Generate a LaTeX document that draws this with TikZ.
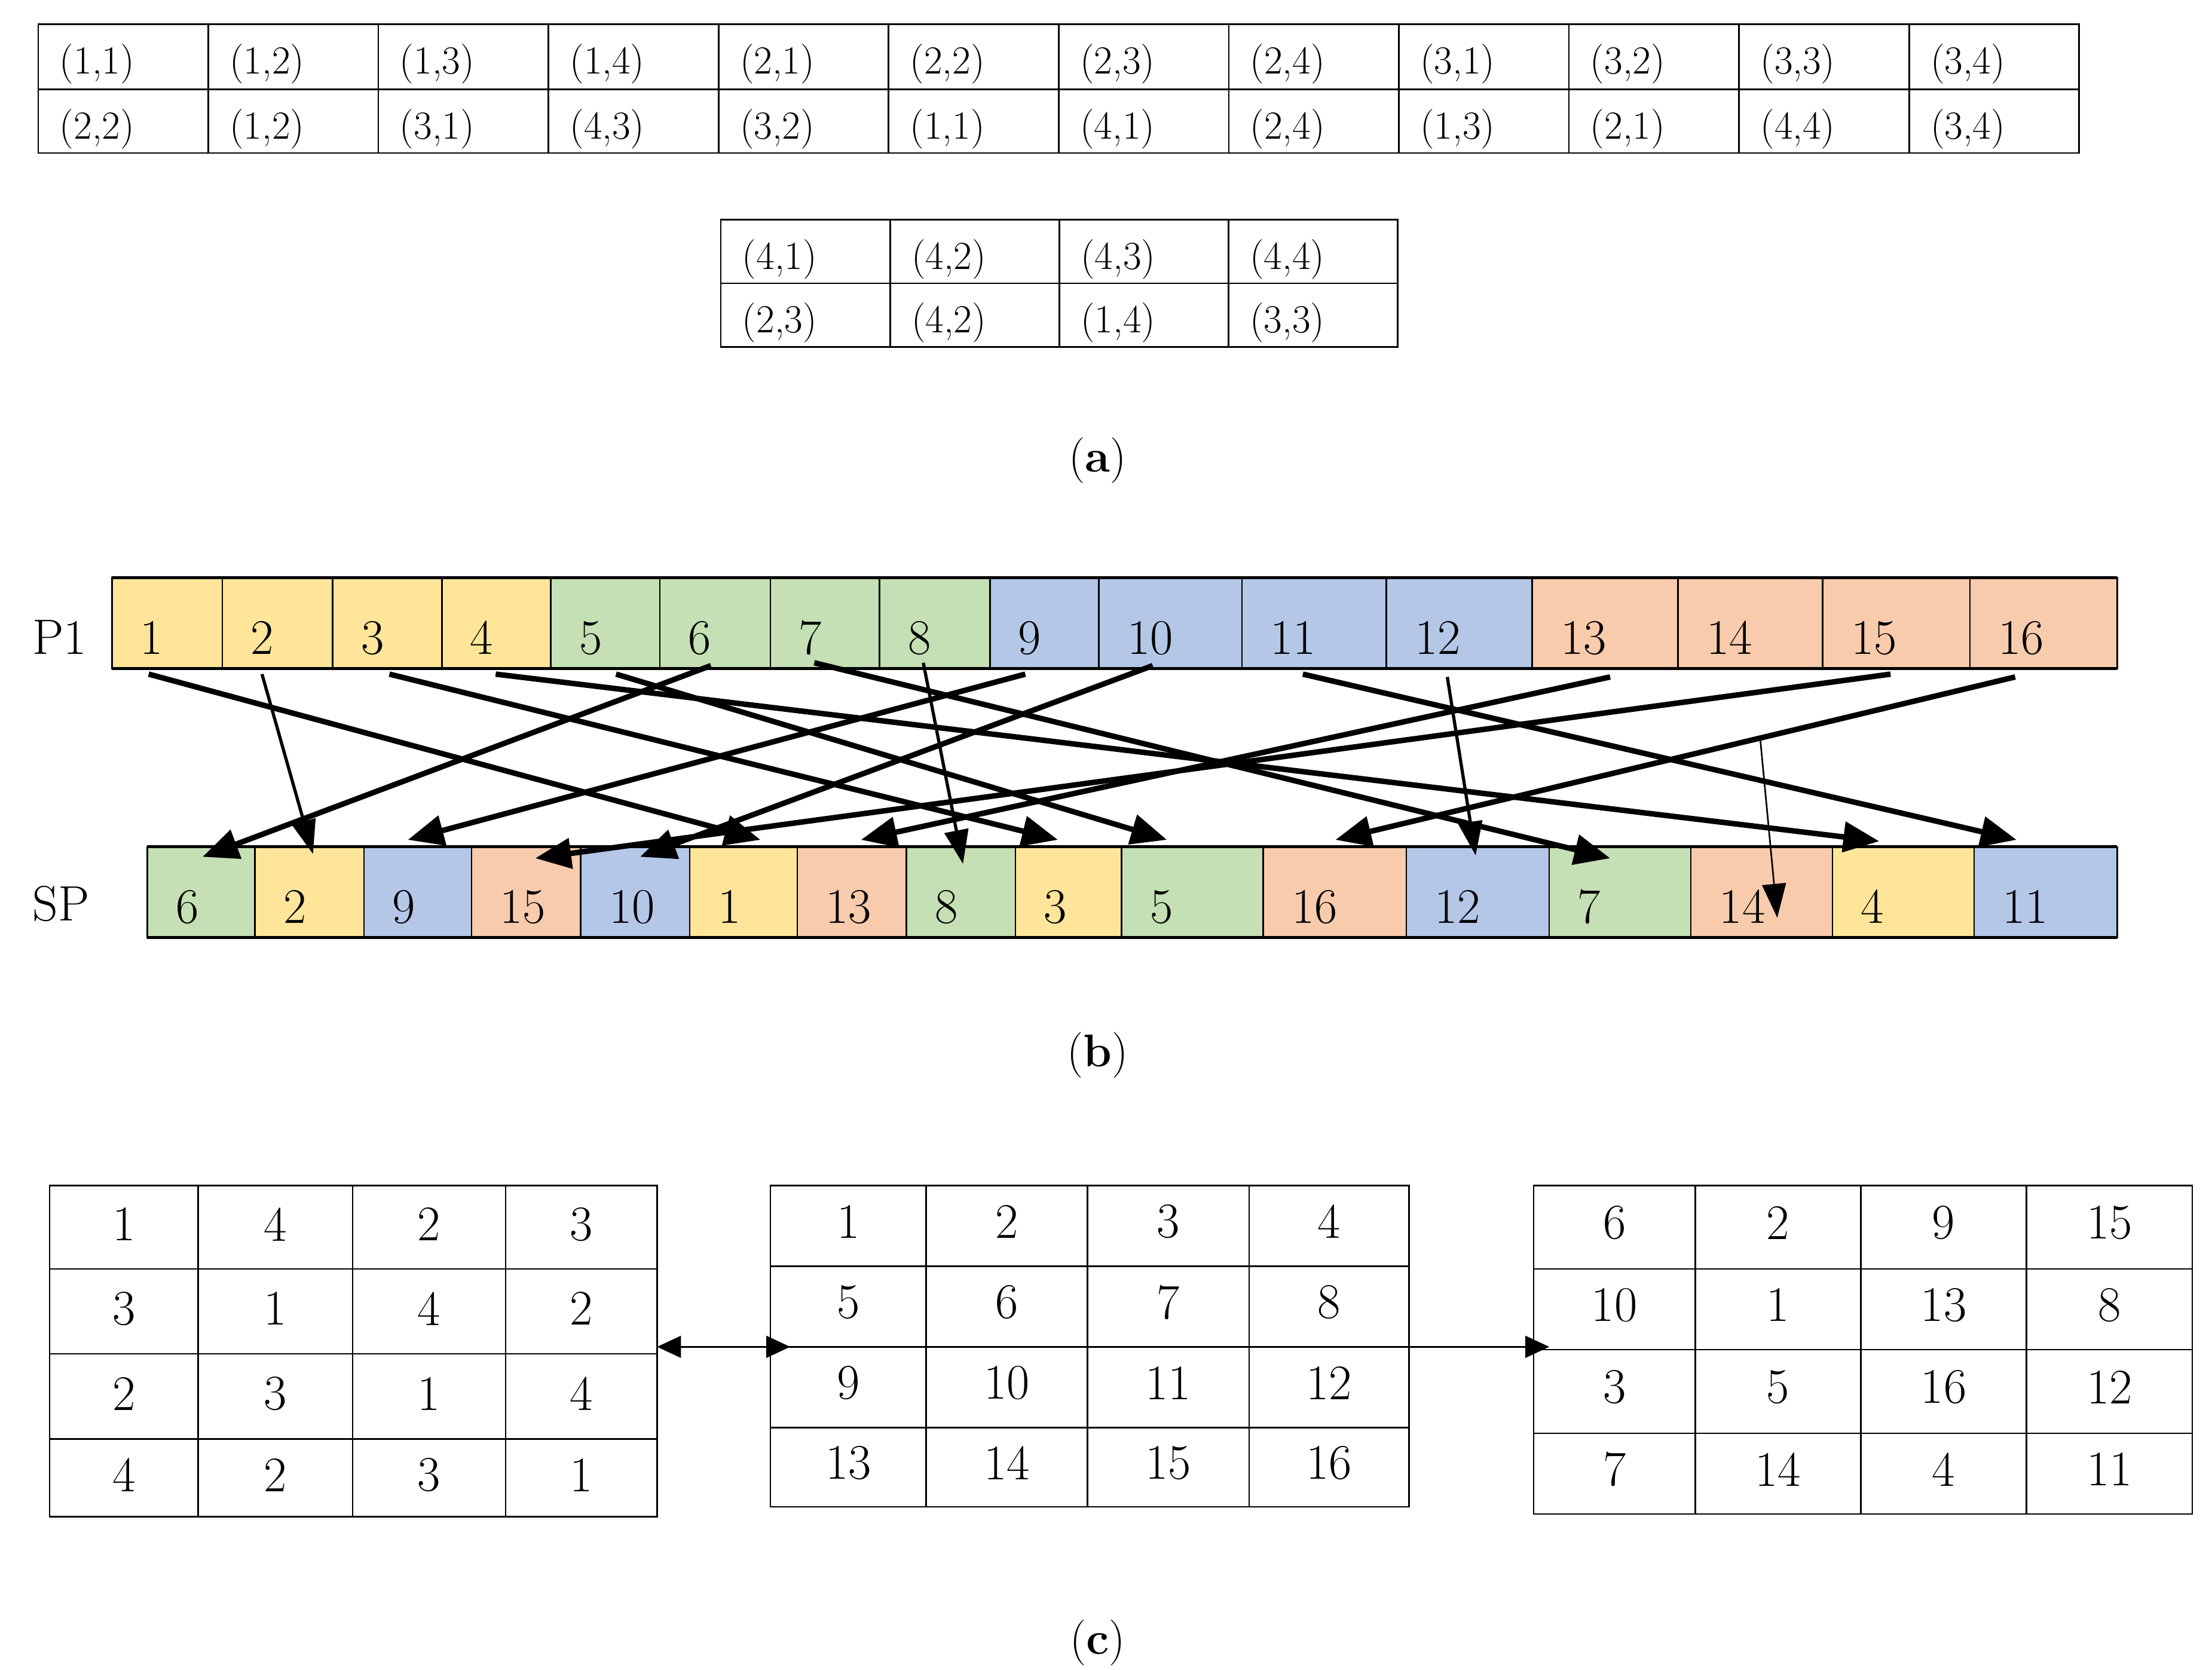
\documentclass[tikz,border=0pt]{standalone}
\usetikzlibrary{arrows.meta}
\definecolor{Y}{HTML}{FEE59A}
\definecolor{G}{HTML}{C5E0B4}
\definecolor{B}{HTML}{B4C7E7}
\definecolor{O}{HTML}{F8CBAD}
\begin{document}
\begin{tikzpicture}[x=0.05cm,y=-0.05cm,
  ln/.style={line width=1.6pt},
  ta/.style={font=\fontsize{40}{48}\selectfont,anchor=base west,inner sep=0},
  tb/.style={font=\fontsize{50}{60}\selectfont,anchor=base west,inner sep=0},
  tc/.style={font=\fontsize{50}{60}\selectfont,inner sep=0},
  lab/.style={font=\fontsize{46}{56}\selectfont,inner sep=0},
  thick arr/.style={line width=5.5pt,-{Triangle[length=36pt,width=30pt]}},
  thin arr/.style={line width=2.2pt,-{Triangle[length=34pt,width=24pt]}}]
\useasboundingbox (0,0) rectangle (1562,1179);
% ---------- (a)
\foreach \a/\b/\c/\d [count=\i from 0] in {1/1/2/2,1/2/1/2,1/3/3/1,1/4/4/3,2/1/3/2,2/2/1/1,2/3/4/1,2/4/2/4,3/1/1/3,3/2/2/1,3/3/4/4,3/4/3/4}{
  \pgfmathsetmacro\xl{27+120.1*\i}
  \draw[ln] (\xl,17) rectangle ++(120.1,46) (\xl,63) rectangle ++(120.1,45);
  \node[ta] (a1t\i) at (\xl+15,52) {(\a,\b)};
  \node[ta] (a1b\i) at (\xl+15,98) {(\c,\d)};
}
\foreach \a/\b/\c/\d [count=\i from 0] in {4/1/2/3,4/2/4/2,4/3/1/4,4/4/3/3}{
  \pgfmathsetmacro\xl{509+119.5*\i}
  \draw[ln] (\xl,155) rectangle ++(119.5,45) (\xl,200) rectangle ++(119.5,45);
  \node[ta] (a2t\i) at (\xl+15,190) {(\a,\b)};
  \node[ta] (a2b\i) at (\xl+15,235) {(\c,\d)};
}
\node[lab] (la) at (775,325) {(\textbf{a})};
% ---------- (b)
\foreach \l/\r/\t/\c in {79/157/1/Y,157/235/2/Y,235/312/3/Y,312/389/4/Y,389/466/5/G,466/544/6/G,544/621/7/G,621/699/8/G,699/776/9/B,776/877/10/B,877/979/11/B,979/1082/12/B,1082/1185/13/O,1185/1287/14/O,1287/1391/15/O,1391/1495/16/O}{
  \draw[ln,fill=\c] (\l,408) rectangle (\r,472);
  \node[tb] (p\t) at (\l+20,462) {\t};
}
\draw[line width=3pt] (79,408) -- (1495,408) (79,472) -- (1495,472);
\foreach \l/\r/\t/\c in {104/180/6/G,180/257/2/Y,257/333/9/B,333/410/15/O,410/487/10/B,487/563/1/Y,563/640/13/O,640/717/8/G,717/792/3/Y,792/892/5/G,892/993/16/O,993/1094/12/B,1094/1194/7/G,1194/1294/14/O,1294/1394/4/Y,1394/1495/11/B}{
  \draw[ln,fill=\c] (\l,598) rectangle (\r,662);
  \node[tb] (q\t) at (\l+20,652) {\t};
}
\draw[line width=3pt] (104,598) -- (1495,598) (104,662) -- (1495,662);
\node[tb,anchor=base] (P1) at (42,462) {P1};
\node[tb,anchor=base] (SP) at (43,650) {SP};
\foreach \n/\sx/\sy/\ex/\ey in {1/105/476/537/593,2/185/476/221/603,3/275/476/747/593,4/350/476/1327/594,5/435/476/824/593,6/502/470/143/605,7/575/468/1137/606,8/652/468/680/610,9/724/476/288/593,10/814/470/452/605,11/920/476/1424/593,12/1022/478/1042/604,13/1137/478/608/593,14/1243/522/1255/648,15/1335/476/378/606,16/1423/478/943/593}{
  \coordinate (s\n) at (\sx,\sy);
  \coordinate (e\n) at (\ex,\ey);
}
\foreach \n in {1,3,4,5,6,7,9,10,11,13,15,16}{\draw[thick arr] (s\n) -- (e\n);}
\foreach \n in {2,8,12}{\draw[thin arr,line width=3.2pt] (s\n) -- (e\n);}
\draw[thin arr,line width=1.6pt] (s14) -- (e14);
\node[lab] (lb) at (775,745) {(\textbf{b})};
% ---------- (c)
\foreach \row [count=\r] in {{1,4,2,3},{3,1,4,2},{2,3,1,4},{4,2,3,1}}{
  \foreach \v [count=\c] in \row{
    \pgfmathsetmacro\xa{{35,140,249,357,464}[\c-1]}
    \pgfmathsetmacro\xb{{35,140,249,357,464}[\c]}
    \pgfmathsetmacro\ya{{837,896,956,1016,1071}[\r-1]}
    \pgfmathsetmacro\yb{{837,896,956,1016,1071}[\r]}
    \draw[ln] (\xa,\ya) rectangle (\xb,\yb);
    \node[tc] (L\r\c) at ({(\xa+\xb)/2},{(\ya+\yb)/2-2}) {\v};
  }
}
\foreach \row [count=\r] in {{1,2,3,4},{5,6,7,8},{9,10,11,12},{13,14,15,16}}{
  \foreach \v [count=\c] in \row{
    \pgfmathsetmacro\xa{{544,654,768,882,995}[\c-1]}
    \pgfmathsetmacro\xb{{544,654,768,882,995}[\c]}
    \pgfmathsetmacro\ya{{837,894,951,1008,1064}[\r-1]}
    \pgfmathsetmacro\yb{{837,894,951,1008,1064}[\r]}
    \draw[ln] (\xa,\ya) rectangle (\xb,\yb);
    \node[tc] (M\r\c) at ({(\xa+\xb)/2},{(\ya+\yb)/2-3}) {\v};
  }
}
\foreach \row [count=\r] in {{6,2,9,15},{10,1,13,8},{3,5,16,12},{7,14,4,11}}{
  \foreach \v [count=\c] in \row{
    \pgfmathsetmacro\xa{{1083,1197,1314,1431,1548}[\c-1]}
    \pgfmathsetmacro\xb{{1083,1197,1314,1431,1548}[\c]}
    \pgfmathsetmacro\ya{{837,896,953,1012,1069}[\r-1]}
    \pgfmathsetmacro\yb{{837,896,953,1012,1069}[\r]}
    \draw[ln] (\xa,\ya) rectangle (\xb,\yb);
    \node[tc] (R\r\c) at ({(\xa+\xb)/2},{(\ya+\yb)/2-3}) {\v};
  }
}
\coordinate (c1) at (464,951);
\coordinate (c2) at (558,951);
\coordinate (c3) at (995,951);
\coordinate (c4) at (1094,951);
\draw[ln,{Triangle[length=24pt,width=22pt]}-{Triangle[length=24pt,width=22pt]}] (c1) -- (c2);
\draw[ln,-{Triangle[length=24pt,width=22pt]}] (c3) -- (c4);
\node[lab] (lc) at (775,1160) {(\textbf{c})};
\end{tikzpicture}
\end{document}
